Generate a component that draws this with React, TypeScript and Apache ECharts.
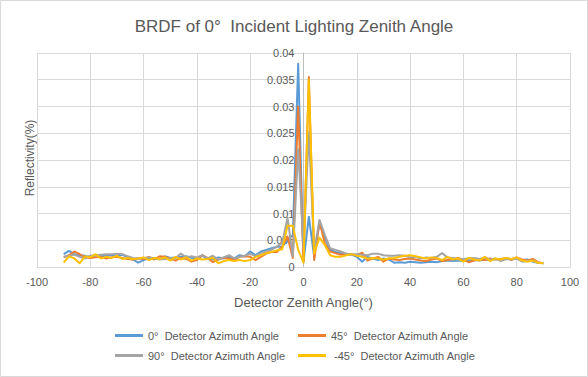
import React, { useEffect, useRef } from "react";
import * as echarts from "echarts";

const xValues: number[] = [];
for (let a = -90; a <= 90; a += 2) xValues.push(a);

const seriesNames = [
  "0°  Detector Azimuth Angle",
  "45°  Detector Azimuth Angle",
  "90°  Detector Azimuth Angle",
  " -45°  Detector Azimuth Angle",
];

const az0 = [
  0.0024, 0.0030, 0.0024, 0.0022, 0.0021, 0.0018, 0.0022, 0.0020, 0.0021, 0.0022,
  0.0022, 0.0023, 0.0018, 0.0014, 0.0008, 0.0013, 0.0016, 0.0017, 0.0015, 0.0020,
  0.0017, 0.0018, 0.0019, 0.0020, 0.0017, 0.0016, 0.0021, 0.0015, 0.0014, 0.0018,
  0.0016, 0.0019, 0.0016, 0.0022, 0.0020, 0.0029, 0.0022, 0.0029, 0.0032, 0.0035,
  0.0038, 0.0038, 0.0050, 0.0060, 0.0380, 0.0010, 0.0094, 0.0019, 0.0083, 0.0054,
  0.0032, 0.0028, 0.0026, 0.0024, 0.0023, 0.0019, 0.0010, 0.0019, 0.0016, 0.0013,
  0.0016, 0.0014, 0.0008, 0.0009, 0.0008, 0.0010, 0.0009, 0.0008, 0.0009, 0.0010,
  0.0009, 0.0011, 0.0012, 0.0011, 0.0012, 0.0011, 0.0012, 0.0013, 0.0012, 0.0014,
  0.0013, 0.0015, 0.0014, 0.0016, 0.0015, 0.0016, 0.0013, 0.0014, 0.0010, 0.0008,
  0.0007,
];

const az45 = [
  0.0018, 0.0022, 0.0029, 0.0024, 0.0018, 0.0017, 0.0018, 0.0019, 0.0016, 0.0018,
  0.0019, 0.0017, 0.0015, 0.0014, 0.0016, 0.0015, 0.0019, 0.0014, 0.0020, 0.0019,
  0.0016, 0.0012, 0.0017, 0.0015, 0.0010, 0.0013, 0.0022, 0.0017, 0.0009, 0.0014,
  0.0017, 0.0016, 0.0013, 0.0019, 0.0020, 0.0019, 0.0013, 0.0019, 0.0025, 0.0028,
  0.0028, 0.0038, 0.0057, 0.0017, 0.0300, 0.0010, 0.0355, 0.0013, 0.0085, 0.0044,
  0.0029, 0.0026, 0.0023, 0.0025, 0.0024, 0.0022, 0.0027, 0.0012, 0.0016, 0.0019,
  0.0010, 0.0016, 0.0014, 0.0013, 0.0015, 0.0016, 0.0014, 0.0012, 0.0011, 0.0014,
  0.0016, 0.0011, 0.0013, 0.0015, 0.0017, 0.0013, 0.0009, 0.0012, 0.0014, 0.0013,
  0.0016, 0.0014, 0.0015, 0.0017, 0.0013, 0.0018, 0.0014, 0.0012, 0.0015, 0.0009,
  0.0007,
];

const az90 = [
  0.0019, 0.0021, 0.0023, 0.0019, 0.0016, 0.0021, 0.0022, 0.0023, 0.0024, 0.0024,
  0.0025, 0.0024, 0.0020, 0.0017, 0.0016, 0.0017, 0.0018, 0.0016, 0.0014, 0.0015,
  0.0016, 0.0017, 0.0025, 0.0018, 0.0020, 0.0018, 0.0022, 0.0016, 0.0021, 0.0014,
  0.0018, 0.0022, 0.0016, 0.0019, 0.0021, 0.0025, 0.0020, 0.0026, 0.0029, 0.0032,
  0.0038, 0.0045, 0.0092, 0.0020, 0.0220, 0.0035, 0.0252, 0.0030, 0.0088, 0.0060,
  0.0035, 0.0032, 0.0029, 0.0025, 0.0024, 0.0024, 0.0023, 0.0022, 0.0025, 0.0025,
  0.0022, 0.0021, 0.0021, 0.0022, 0.0021, 0.0018, 0.0019, 0.0016, 0.0018, 0.0017,
  0.0019, 0.0026, 0.0018, 0.0017, 0.0014, 0.0015, 0.0016, 0.0017, 0.0015, 0.0018,
  0.0014, 0.0016, 0.0011, 0.0015, 0.0014, 0.0016, 0.0010, 0.0011, 0.0012, 0.0008,
  0.0007,
];

const azM45 = [
  0.0008, 0.0020, 0.0016, 0.0007, 0.0020, 0.0018, 0.0024, 0.0016, 0.0019, 0.0017,
  0.0021, 0.0015, 0.0017, 0.0015, 0.0016, 0.0018, 0.0013, 0.0017, 0.0015, 0.0018,
  0.0012, 0.0019, 0.0014, 0.0018, 0.0012, 0.0016, 0.0014, 0.0015, 0.0017, 0.0007,
  0.0011, 0.0013, 0.0011, 0.0013, 0.0011, 0.0013, 0.0019, 0.0022, 0.0026, 0.0028,
  0.0031, 0.0033, 0.0077, 0.0077, 0.0032, 0.0008, 0.0350, 0.0025, 0.0055, 0.0041,
  0.0022, 0.0019, 0.0019, 0.0022, 0.0024, 0.0021, 0.0019, 0.0016, 0.0017, 0.0016,
  0.0014, 0.0016, 0.0017, 0.0019, 0.0021, 0.0022, 0.0020, 0.0018, 0.0016, 0.0018,
  0.0017, 0.0013, 0.0019, 0.0014, 0.0016, 0.0010, 0.0017, 0.0014, 0.0012, 0.0019,
  0.0011, 0.0016, 0.0014, 0.0017, 0.0015, 0.0018, 0.0012, 0.0010, 0.0012, 0.0008,
  0.0007,
];

const colors = ["#5B9BD5", "#ED7D31", "#A5A5A5", "#FFC000"];
const FONT = "Liberation Sans";

export default function App() {
  const ref = useRef<HTMLDivElement>(null);
  useEffect(() => {
    if (!ref.current) return;
    const chart = echarts.init(ref.current, null, { renderer: "svg" });
    const allData = [az0, az45, az90, azM45];
    const legendPos = [
      { left: 115, top: 330 },
      { left: 298, top: 330 },
      { left: 115, top: 350 },
      { left: 298, top: 350 },
    ];
    const gridLeft = 37;
    const gridRight = 18;
    const plotWidth = 588 - gridLeft - gridRight;
    chart.setOption({
      animation: false,
      backgroundColor: "#ffffff",
      color: colors,
      title: {
        text: "BRDF of 0°  Incident Lighting Zenith Angle",
        left: "center",
        top: 13,
        textStyle: { fontFamily: FONT, fontSize: 17, fontWeight: "normal", color: "#595959" },
      },
      legend: seriesNames.map((n, i) => ({
        data: [n],
        left: legendPos[i].left,
        top: legendPos[i].top,
        padding: 0,
        icon: "rect",
        itemWidth: 28,
        itemHeight: 3,
        itemGap: 4,
        textStyle: { fontFamily: FONT, fontSize: 11, color: "#595959" },
      })),
      grid: { left: gridLeft, right: gridRight, top: 53, bottom: 110 },
      xAxis: {
        type: "value",
        min: -100,
        max: 100,
        interval: 20,
        name: "Detector Zenith Angle(°)",
        nameLocation: "middle",
        nameGap: 29,
        nameTextStyle: { fontFamily: FONT, fontSize: 13, color: "#595959" },
        axisLine: { show: true, onZero: false, lineStyle: { color: "#d9d9d9" } },
        axisTick: { show: false },
        axisLabel: { fontFamily: FONT, fontSize: 11, color: "#595959", margin: 9 },
        splitLine: { show: true, lineStyle: { color: "#d9d9d9" } },
      },
      yAxis: {
        type: "value",
        min: 0,
        max: 0.04,
        interval: 0.005,
        offset: -plotWidth / 2,
        axisLine: { show: true, onZero: false, lineStyle: { color: "#bfbfbf" } },
        axisTick: { show: false },
        axisLabel: { fontFamily: FONT, fontSize: 11, color: "#595959", margin: 9 },
        splitLine: { show: true, lineStyle: { color: "#d9d9d9" } },
      },
      graphic: [
        {
          type: "rect",
          shape: { x: 0.5, y: 0.5, width: 587, height: 376 },
          style: { fill: "none", stroke: "#d9d9d9", lineWidth: 1 },
          silent: true,
        },
        {
          type: "text",
          x: 30,
          y: 158,
          rotation: Math.PI / 2,
          style: {
            text: "Reflectivity(%)",
            fontFamily: FONT,
            fontSize: 12,
            fill: "#595959",
            textAlign: "center",
            textVerticalAlign: "middle",
          },
        },
      ],
      series: allData.map((d, i) => ({
        name: seriesNames[i],
        type: "line",
        symbol: "none",
        lineStyle: { width: 2, color: colors[i], join: "round" },
        data: xValues.map((x, j) => [x, d[j]]),
      })),
    });
    return () => chart.dispose();
  }, []);
  return (
    <div
      ref={ref}
      style={{ position: "absolute", left: 0, top: 0, width: 588, height: 377 }}
    />
  );
}
